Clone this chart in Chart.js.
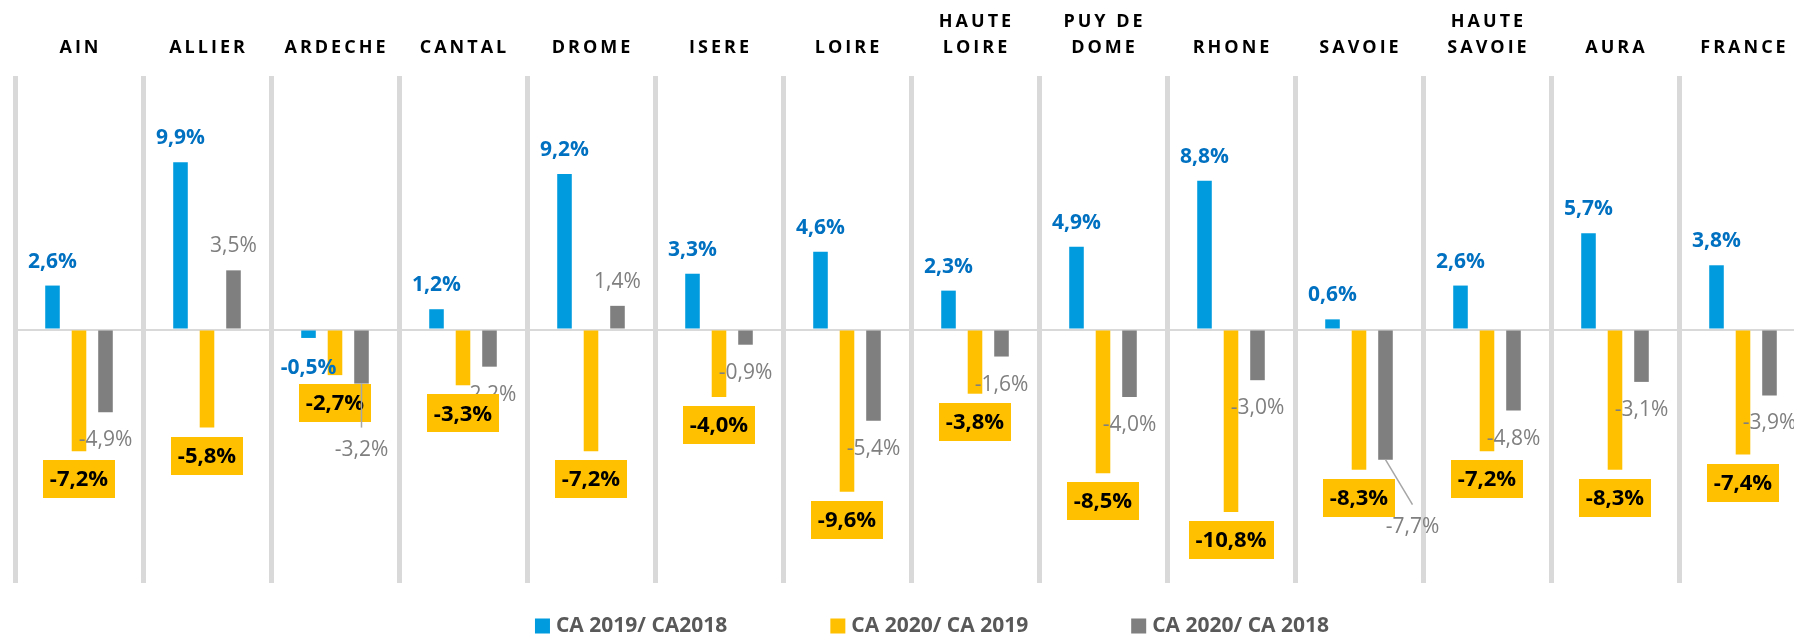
<!DOCTYPE html>
<html>
<head>
<meta charset="utf-8">
<script src="https://cdn.jsdelivr.net/npm/chart.js@4/dist/chart.umd.min.js"></script>
<style>
  html, body { margin: 0; padding: 0; background: #fff; overflow: hidden; }
  #wrap { width: 1810px; height: 635px; }
</style>
</head>
<body>
<div id="wrap"><canvas id="caChart" width="1810" height="635"></canvas></div>
<script>
const categories = [['AIN'], ['ALLIER'], ['ARDECHE'], ['CANTAL'], ['DROME'], ['ISERE'], ['LOIRE'],
  ['HAUTE', 'LOIRE'], ['PUY DE', 'DOME'], ['RHONE'], ['SAVOIE'], ['HAUTE', 'SAVOIE'], ['AURA'], ['FRANCE']];
const ca2019vs2018 = [2.6, 9.9, -0.5, 1.2, 9.2, 3.3, 4.6, 2.3, 4.9, 8.8, 0.6, 2.6, 5.7, 3.8];
const ca2020vs2019 = [-7.2, -5.8, -2.7, -3.3, -7.2, -4.0, -9.6, -3.8, -8.5, -10.8, -8.3, -7.2, -8.3, -7.4];
const ca2020vs2018 = [-4.9, 3.5, -3.2, -2.2, 1.4, -0.9, -5.4, -1.6, -4.0, -3.0, -7.7, -4.8, -3.1, -3.9];
const seriesNames = ['CA 2019/ CA2018', 'CA 2020/ CA 2019', 'CA 2020/ CA 2018'];

const BLUE = '#009BDE', YELLOW = '#FFC000', GREY = '#7F7F7F';
const FONT = '"Open Sans", "Noto Sans", sans-serif';

// grey labels that Excel had dragged away from their bar (index -> extra px), with a leader line
const greyLabelMoves = { 2: { dx: 0, dy: 38 }, 10: { dx: 27, dy: 39 } };

const fmt = v => v.toFixed(1).replace('.', ',') + '%';

// category names across the top, letter spaced
const topLabels = {
  id: 'topLabels',
  afterDraw(chart) {
    const ctx = chart.ctx, x = chart.scales.x;
    ctx.save();
    ctx.font = 'bold 18px ' + FONT;
    ctx.fillStyle = '#000';
    ctx.textAlign = 'center';
    ctx.textBaseline = 'middle';
    ctx.letterSpacing = '3px';
    categories.forEach((lines, i) => {
      const px = x.getPixelForValue(i) + 1.5;
      lines.forEach((t, k) => {
        const y = 48 - (lines.length - 1 - k) * 26;
        ctx.fillText(t, px, y);
      });
    });
    ctx.restore();
  }
};

// value labels
const valueLabels = {
  id: 'valueLabels',
  afterDatasetsDraw(chart) {
    const ctx = chart.ctx;
    ctx.save();
    ctx.textAlign = 'center';
    ctx.textBaseline = 'middle';

    // blue
    ctx.font = 'bold 21px ' + FONT;
    ctx.fillStyle = '#0070C0';
    chart.getDatasetMeta(0).data.forEach((bar, i) => {
      const v = ca2019vs2018[i];
      ctx.fillText(fmt(v), bar.x, v >= 0 ? bar.y - 24 : bar.y + 30);
    });

    // grey
    ctx.font = '21px ' + FONT;
    ctx.fillStyle = GREY;
    const leaders = [];
    chart.getDatasetMeta(2).data.forEach((bar, i) => {
      const v = ca2020vs2018[i];
      const mv = greyLabelMoves[i] || { dx: 0, dy: 0 };
      const lx = bar.x + mv.dx;
      const ly = (v >= 0 ? bar.y - 24 : bar.y + 28) + mv.dy;
      ctx.fillText(fmt(v), lx, ly);
      if (greyLabelMoves[i]) leaders.push([bar.x, bar.y, lx, ly - 22]);
    });

    // yellow boxes
    ctx.font = 'bold 22px ' + FONT;
    chart.getDatasetMeta(1).data.forEach((bar, i) => {
      const v = ca2020vs2019[i];
      const t = fmt(v);
      const w = ctx.measureText(t).width + 14;
      const cy = v >= 0 ? bar.y - 28 : bar.y + 28;
      ctx.fillStyle = YELLOW;
      ctx.fillRect(Math.round(bar.x - w / 2), Math.round(cy - 19), Math.round(w), 38);
      ctx.fillStyle = '#000';
      ctx.fillText(t, bar.x, cy + 1);
    });

    // leader lines
    ctx.strokeStyle = '#A6A6A6';
    ctx.lineWidth = 1.5;
    leaders.forEach(([x1, y1, x2, y2]) => {
      ctx.beginPath();
      ctx.moveTo(x1, y1);
      ctx.lineTo(x2, y2);
      ctx.stroke();
    });
    ctx.restore();
  }
};

// legend at the bottom
const bottomLegend = {
  id: 'bottomLegend',
  afterDraw(chart) {
    const ctx = chart.ctx;
    const sets = chart.data.datasets;
    ctx.save();
    ctx.font = 'bold 21px ' + FONT;
    ctx.textBaseline = 'middle';
    const box = 15, gap = 6, itemGap = 103, cy = 626;
    const widths = sets.map(d => box + gap + ctx.measureText(d.label).width);
    const total = widths.reduce((a, b) => a + b, 0) + itemGap * (sets.length - 1);
    let x = 932 - total / 2;
    sets.forEach((d, i) => {
      ctx.fillStyle = d.backgroundColor;
      ctx.fillRect(x, cy - box / 2, box, box);
      ctx.fillStyle = '#595959';
      ctx.fillText(d.label, x + box + gap, cy);
      x += widths[i] + itemGap;
    });
    ctx.restore();
  }
};

const ctx = document.getElementById('caChart').getContext('2d');
const caChart = new Chart(ctx, {
  type: 'bar',
  data: {
    labels: categories.map(c => c.join(' ')),
    datasets: [
      { label: seriesNames[0], data: ca2019vs2018, backgroundColor: BLUE },
      { label: seriesNames[1], data: ca2020vs2019, backgroundColor: YELLOW },
      { label: seriesNames[2], data: ca2020vs2018, backgroundColor: GREY }
    ]
  },
  options: {
    responsive: false,
    animation: false,
    devicePixelRatio: 1,
    categoryPercentage: 0.621,
    barPercentage: 0.55,
    layout: { padding: { left: 15, right: 3, top: 76, bottom: 52 } },
    plugins: {
      legend: { display: false },
      tooltip: { enabled: false }
    },
    scales: {
      x: {
        position: 'top',
        offset: true,
        grid: { offset: true, color: '#D9D9D9', lineWidth: 5, drawTicks: false },
        border: { display: false },
        ticks: { display: false }
      },
      y: {
        min: -15,
        max: 15,
        ticks: { display: false, stepSize: 5 },
        border: { display: false },
        grid: {
          drawTicks: false,
          lineWidth: 2,
          color: c => (c.tick && c.tick.value === 0 ? '#D9D9D9' : 'rgba(0,0,0,0)')
        }
      }
    }
  },
  plugins: [topLabels, valueLabels, bottomLegend]
});
</script>
</body>
</html>
